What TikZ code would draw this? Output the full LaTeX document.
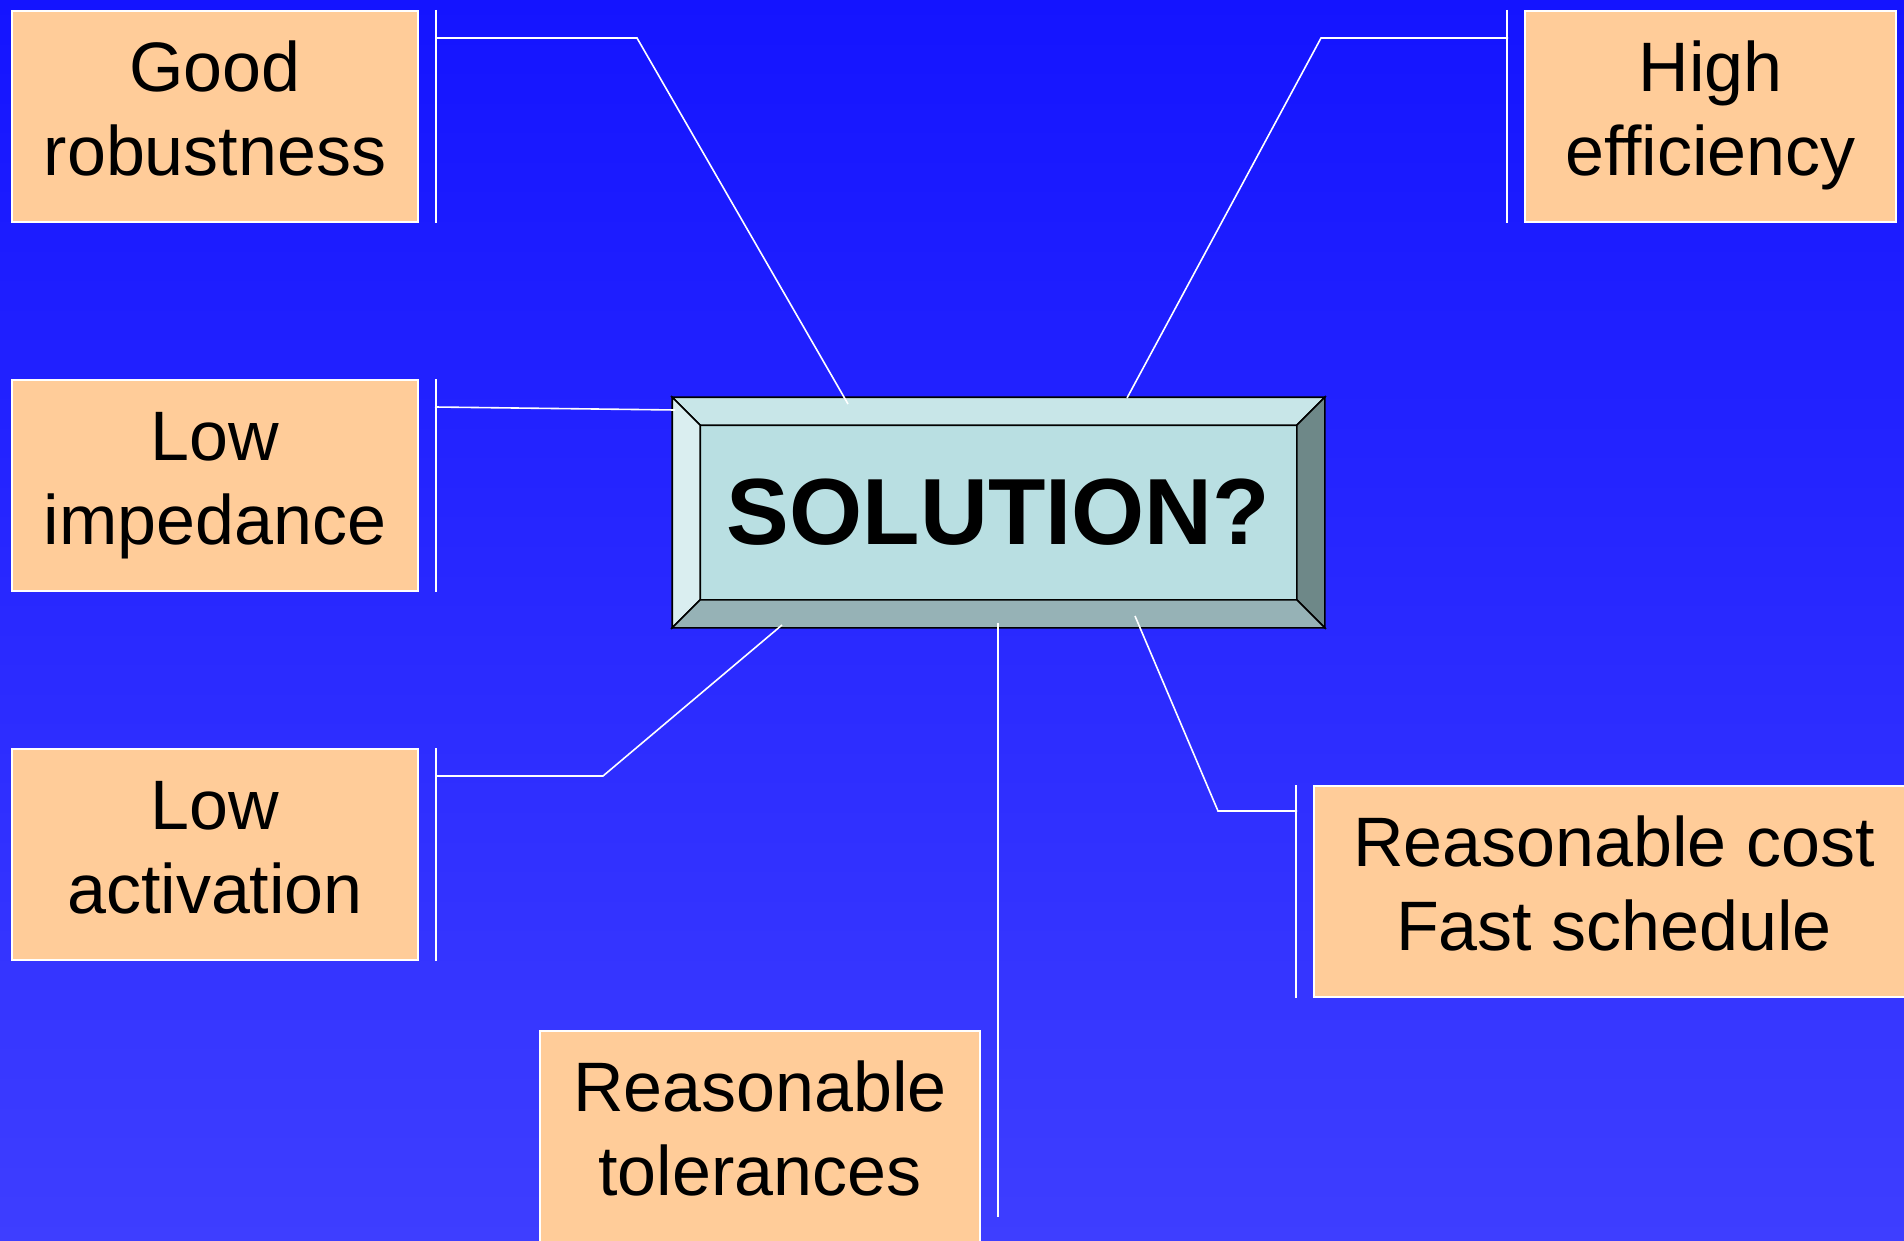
\documentclass[tikz,border=0pt]{standalone}
\usepackage{fontspec}
\setmainfont{Liberation Sans}
\usepackage{tikz}

\definecolor{bgtop}{RGB}{20,20,255}
\definecolor{bgbottom}{RGB}{62,62,255}
\definecolor{boxorange}{RGB}{255,204,153}
\definecolor{solface}{RGB}{185,223,226}
\definecolor{soltop}{RGB}{200,230,232}
\definecolor{solleft}{RGB}{218,238,240}
\definecolor{solright}{RGB}{110,136,136}
\definecolor{solbottom}{RGB}{150,178,182}

% struts so every two-line goal sits at the same height
\newcommand{\goaltop}{\rule{0pt}{60pt}}
\newcommand{\goalbot}{\rule[-26pt]{0pt}{26pt}}

\begin{document}
\begin{tikzpicture}[x=1pt,y=-1pt,
    goal/.style={draw=white,line width=2pt,fill=boxorange,align=center,
      minimum height=211pt,inner sep=0pt,font=\fontsize{70}{84}\selectfont},
    link/.style={draw=white,line width=1.6pt},
    bevel/.style={draw=black,line width=1.6pt}]
    \useasboundingbox (0,0) rectangle (1904,1241);
    \shade[top color=bgtop,bottom color=bgbottom] (0,0) rectangle (1904,1241);

    % the goals
    \node[goal,minimum width=406pt] (rob) at (215,116.5) {\goaltop Good\\robustness\goalbot};
    \node[goal,minimum width=371pt] (eff) at (1710.5,116.5) {\goaltop High\\efficiency\goalbot};
    \node[goal,minimum width=406pt] (imp) at (215,485.5) {\goaltop Low\\impedance\goalbot};
    \node[goal,minimum width=406pt] (act) at (215,854.5) {\goaltop Low\\activation\goalbot};
    \node[goal,minimum width=440pt] (tol) at (760,1136.5) {\goaltop Reasonable\\tolerances\goalbot};
    \node[goal,minimum width=600pt] (cost) at (1614,891.5) {\goaltop Reasonable cost\\Fast schedule\goalbot};

    % the button
    \node[bevel,fill=solface,minimum width=651pt,minimum height=229pt,inner sep=0pt,
      font=\fontsize{94}{110}\selectfont\bfseries] (sol) at (998.5,512.5) {SOLUTION?};
    \filldraw[bevel,fill=soltop] (sol.north west) -- (sol.north east)
      -- ([shift={(-28,28)}]sol.north east) -- ([shift={(28,28)}]sol.north west) -- cycle;
    \filldraw[bevel,fill=solleft] (sol.north west) -- ([shift={(28,28)}]sol.north west)
      -- ([shift={(28,-28)}]sol.south west) -- (sol.south west) -- cycle;
    \filldraw[bevel,fill=solright] (sol.north east) -- (sol.south east)
      -- ([shift={(-28,-28)}]sol.south east) -- ([shift={(-28,28)}]sol.north east) -- cycle;
    \filldraw[bevel,fill=solbottom] (sol.south west) -- ([shift={(28,-28)}]sol.south west)
      -- ([shift={(-28,-28)}]sol.south east) -- (sol.south east) -- cycle;

    % brackets beside the goals
    \draw[link] ([xshift=17pt]rob.north east) -- ([xshift=17pt]rob.south east);
    \draw[link] ([xshift=17pt]imp.north east) -- ([xshift=17pt]imp.south east);
    \draw[link] ([xshift=17pt]act.north east) -- ([xshift=17pt]act.south east);
    \draw[link] ([xshift=-17pt]eff.north west) -- ([xshift=-17pt]eff.south west);
    \draw[link] ([xshift=-17pt]cost.north west) -- ([xshift=-17pt]cost.south west);

    % links to the button
    \coordinate (robtap) at (435,38);
    \coordinate (robknee) at (637,38);
    \coordinate (robend) at (848,404);
    \coordinate (efftap) at (1508,38);
    \coordinate (effknee) at (1321,38);
    \coordinate (effend) at (1127,398);
    \coordinate (imptap) at (435,407);
    \coordinate (impend) at (675,410);
    \coordinate (acttap) at (435,776);
    \coordinate (actknee) at (603,776);
    \coordinate (actend) at (782,625);
    \coordinate (tolend) at (998,623);
    \coordinate (toltap) at (998,1217);
    \coordinate (costtap) at (1297,811);
    \coordinate (costknee) at (1218,811);
    \coordinate (costend) at (1135,616);

    \draw[link] (robtap) -- (robknee) -- (robend);
    \draw[link] (efftap) -- (effknee) -- (effend);
    \draw[link] (imptap) -- (impend);
    \draw[link] (acttap) -- (actknee) -- (actend);
    \draw[link] (tolend) -- (toltap);
    \draw[link] (costtap) -- (costknee) -- (costend);
\end{tikzpicture}
\end{document}
